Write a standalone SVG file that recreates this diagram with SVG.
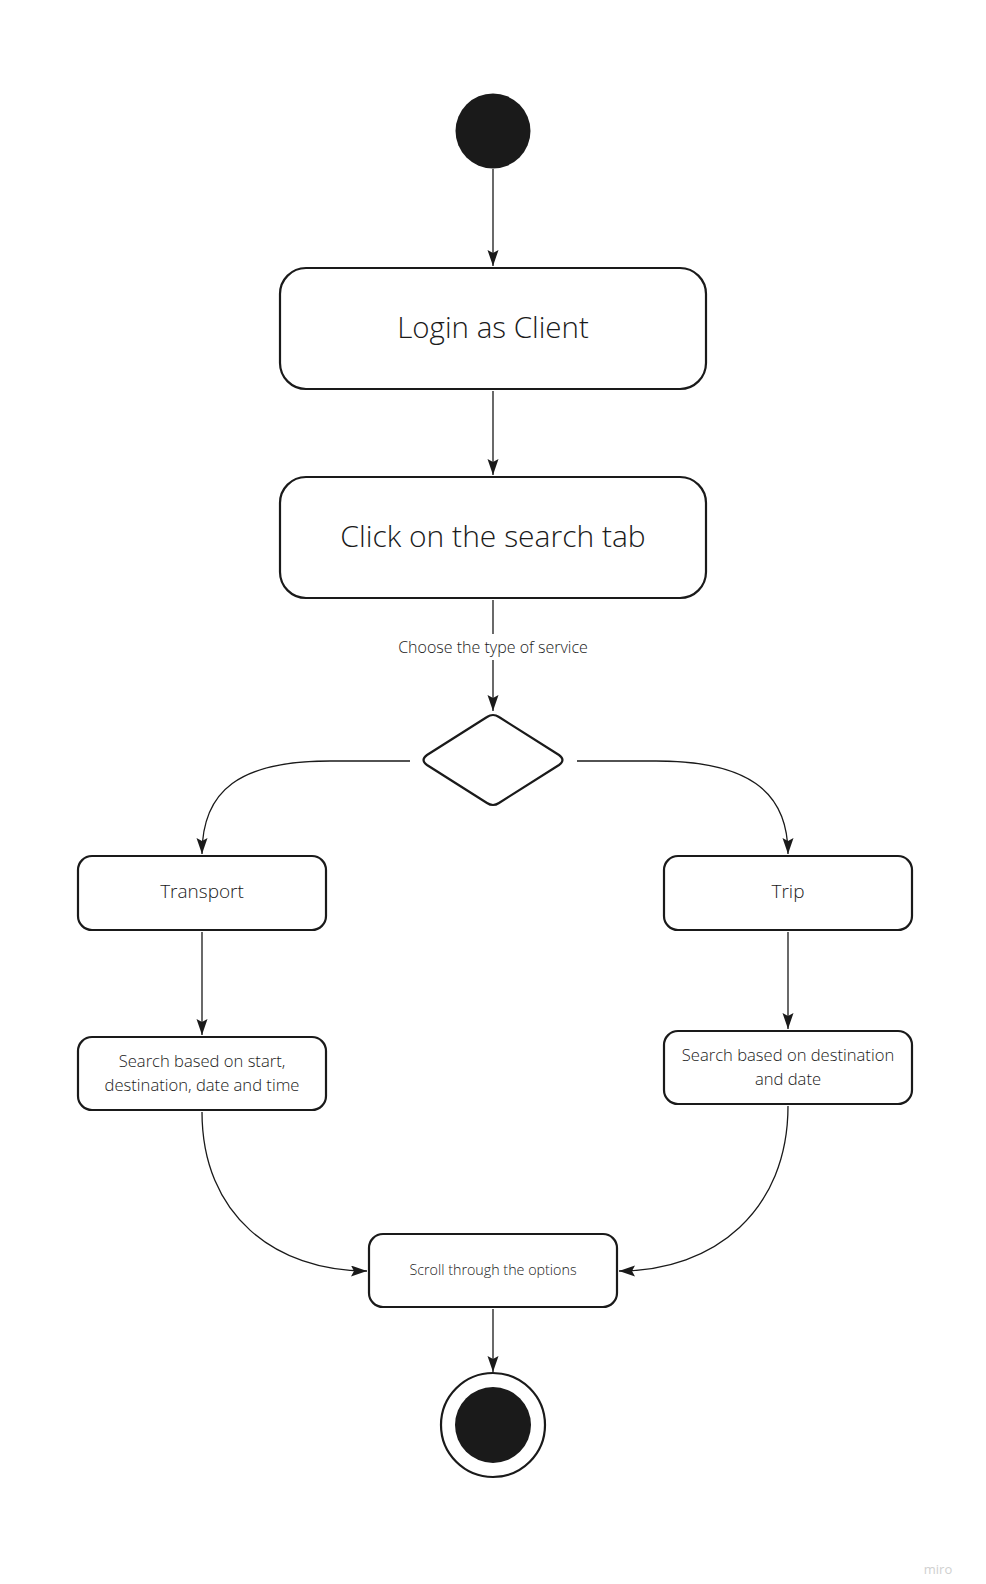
<svg xmlns="http://www.w3.org/2000/svg" width="986" height="1584" viewBox="0 0 986 1584">
<style>
.box{fill:#fff;stroke:#1a1a1a;stroke-width:2.2}
.t{font-family:"Open Sans","Liberation Sans",sans-serif;font-weight:300;fill:#1a1a1a;text-anchor:middle;dominant-baseline:central}
.c{fill:none;stroke:#1a1a1a;stroke-width:1.3}
</style>
<defs>
<marker id="ah" markerUnits="userSpaceOnUse" markerWidth="18" markerHeight="12" refX="16" refY="5.5" orient="auto">
<path d="M0,0 L16,5.5 L0,11 L3,5.5 Z" fill="#1a1a1a"/>
</marker>
</defs>
<rect width="986" height="1584" fill="#fff"/>
<g id="connectors">
<line class="c" x1="493" y1="169" x2="493" y2="266" marker-end="url(#ah)"/>
<line class="c" x1="493" y1="391" x2="493" y2="475" marker-end="url(#ah)"/>
<line class="c" x1="493" y1="600" x2="493" y2="634"/>
<line class="c" x1="493" y1="660" x2="493" y2="711" marker-end="url(#ah)"/>
<path class="c" d="M410,761 L330,761 C240,761 202,790 202,854" marker-end="url(#ah)"/>
<path class="c" d="M577,761 L656,761 C746,761 788,790 788,854" marker-end="url(#ah)"/>
<line class="c" x1="202" y1="932" x2="202" y2="1035" marker-end="url(#ah)"/>
<line class="c" x1="788" y1="932" x2="788" y2="1029" marker-end="url(#ah)"/>
<path class="c" d="M202,1112 C202,1215 275,1271 367,1271" marker-end="url(#ah)"/>
<path class="c" d="M788,1106 C788,1210 715,1271 619,1271" marker-end="url(#ah)"/>
<line class="c" x1="493" y1="1309" x2="493" y2="1372" marker-end="url(#ah)"/>
<text class="t" x="493" y="647" font-size="16">Choose the type of service</text>
</g>
<g id="start"><circle cx="493" cy="131" r="37.5" fill="#1a1a1a"/></g>
<g id="login"><rect class="box" x="280" y="268" width="426" height="121" rx="26"/><text class="t" x="493" y="326" font-size="29.5">Login as Client</text></g>
<g id="search-tab"><rect class="box" x="280" y="477" width="426" height="121" rx="26"/><text class="t" x="493" y="535" font-size="30">Click on the search tab</text></g>
<g id="decision"><path class="box" d="M487,717 Q493,713 499,717 L559,755 Q566,760 559,765 L499,803 Q493,807 487,803 L427,765 Q420,760 427,755 Z"/></g>
<g id="transport"><rect class="box" x="78" y="856" width="248" height="74" rx="14"/><text class="t" x="202" y="891" font-size="19">Transport</text></g>
<g id="trip"><rect class="box" x="664" y="856" width="248" height="74" rx="14"/><text class="t" x="788" y="891" font-size="19">Trip</text></g>
<g id="search-transport"><rect class="box" x="78" y="1037" width="248" height="73" rx="14"/><text class="t" x="202" y="1060" font-size="16.6">Search based on start,</text><text class="t" x="202" y="1084" font-size="16.6">destination, date and time</text></g>
<g id="search-trip"><rect class="box" x="664" y="1031" width="248" height="73" rx="14"/><text class="t" x="788" y="1054" font-size="16.6">Search based on destination</text><text class="t" x="788" y="1078" font-size="16.6">and date</text></g>
<g id="scroll"><rect class="box" x="369" y="1234" width="248" height="73" rx="14"/><text class="t" x="493" y="1269" font-size="14.3">Scroll through the options</text></g>
<g id="end"><circle cx="493" cy="1425" r="52" fill="#fff" stroke="#1a1a1a" stroke-width="2.2"/><circle cx="493" cy="1425" r="38" fill="#1a1a1a"/></g>
<text x="938" y="1569" font-family="'Open Sans','Liberation Sans',sans-serif" font-size="13" fill="#d0d0d0" text-anchor="middle" dominant-baseline="central">miro</text>
</svg>
